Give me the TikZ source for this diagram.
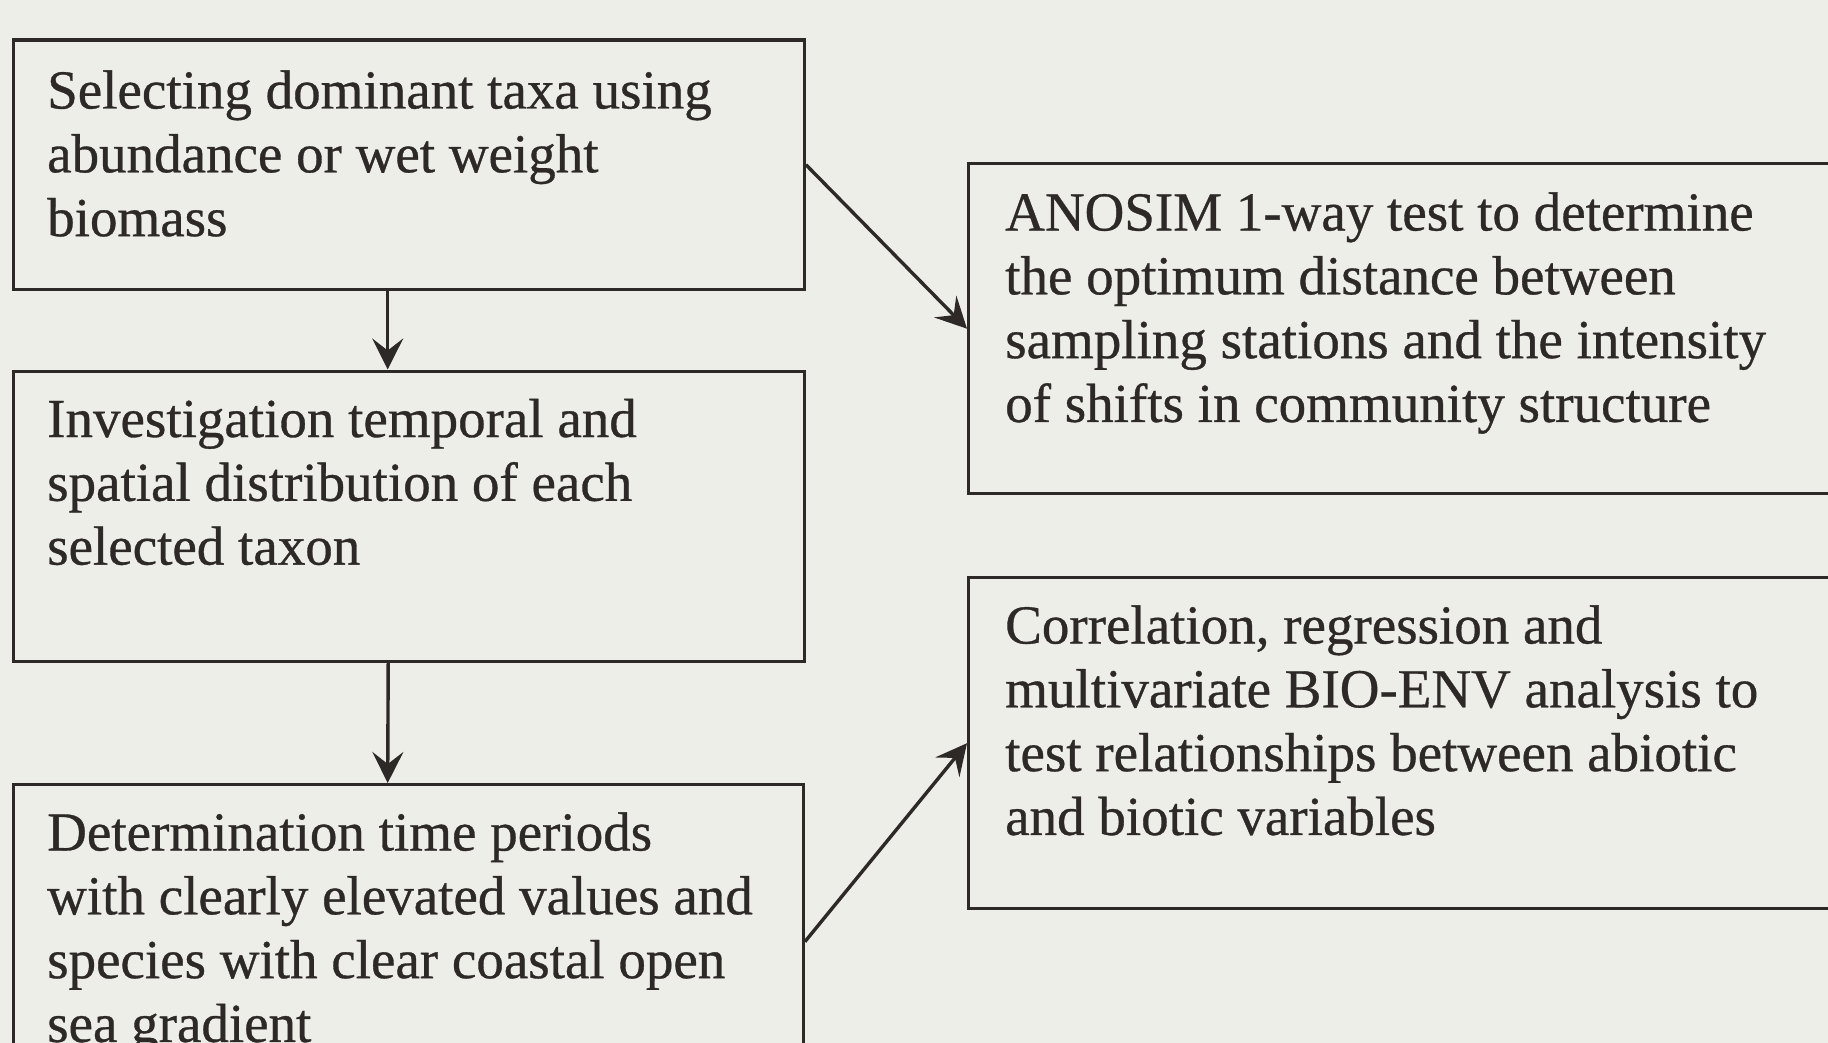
\documentclass[tikz,border=0pt]{standalone}
\usepackage{fontspec}
\setmainfont{Liberation Serif}[BoldFont=Liberation Serif, BoldFeatures={FakeBold=0.6}]
\usetikzlibrary{arrows.meta}
\definecolor{paper}{RGB}{238,238,233}
\definecolor{ink}{RGB}{44,41,38}
% left-aligned block of lines whose baseline is that of its first line
\newcommand\linesblock[1]{\begin{tabular}[t]{@{}l@{}}#1\end{tabular}}
\begin{document}
\begin{tikzpicture}[x=1pt,y=-1pt,
  box/.style={draw=ink, line width=3.4pt, inner sep=0pt, anchor=north west},
  txt/.style={text=ink, inner sep=0pt, anchor=base west,
              font=\fontsize{55}{63.8}\selectfont\bfseries},
  flow/.style={draw=ink, line width=3.4pt,
               -{Stealth[length=31pt,width=31pt,inset=12pt]}}]
  \useasboundingbox (0,0) rectangle (1828,1043);
  \clip (0,0) rectangle (1828,1043);
  \fill[paper] (0,0) rectangle (1828,1043);

  % left column
  \node[box, minimum width=791pt, minimum height=249pt] (b1) at (11.5,38.5) {};
  \node[box, minimum width=791pt, minimum height=290pt] (b2) at (11.5,369.5) {};
  \node[box, minimum width=790pt, minimum height=314pt] (b3) at (11.5,783) {};
  % right column (boxes run past the right edge)
  \node[box, minimum width=1000pt, minimum height=330pt] (bA) at (967,162) {};
  \node[box, minimum width=1000pt, minimum height=331pt] (bB) at (967,576) {};

  \node[txt] (t1) at (47,108.5) {\linesblock{Selecting dominant taxa using\\
    abundance or wet weight\\ biomass}};
  \node[txt] (t2) at (47,437) {\linesblock{Investigation temporal and\\
    spatial distribution of each\\ selected taxon}};
  \node[txt] (t3) at (47,850.5) {\linesblock{Determination time periods\\
    with clearly elevated values and\\ species with clear coastal open\\
    sea gradient}};
  \node[txt] (tA) at (1005,230.5) {\linesblock{ANOSIM 1-way test to determine\\
    the optimum distance between\\ sampling stations and the intensity\\
    of shifts in community structure}};
  \node[txt] (tB) at (1005,643.5) {\linesblock{Correlation, regression and\\
    multivariate BIO-ENV analysis to\\ test relationships between abiotic\\
    and biotic variables}};

  % connectors
  \draw[flow] ([xshift=-21pt]b1.south) -- ([xshift=-21pt]b2.north);
  \draw[flow] ([xshift=-20.5pt]b2.south) -- ([xshift=-20.5pt]b3.north);
  \draw[flow] (b1.east) -- (bA.west);
  \draw[flow] (b3.east) -- (bB.west);
\end{tikzpicture}
\end{document}
